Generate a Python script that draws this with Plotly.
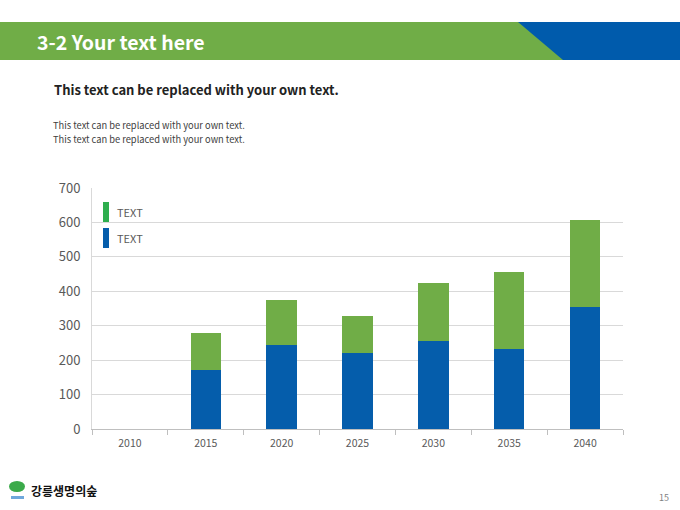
import plotly.graph_objects as go

# chart data
years = ["2010", "2015", "2020", "2025", "2030", "2035", "2040"]
blue_values = [None, 170, 245, 220, 255, 232, 355]
green_values = [None, 110, 130, 108, 168, 225, 252]
series_names = ["TEXT", "TEXT"]
y_ticks = [0, 100, 200, 300, 400, 500, 600, 700]

BLUE = "#055DAB"
GREEN = "#70AD47"
LEGEND_GREEN = "#2EAE4E"
FONT = "Noto Sans CJK KR, Open Sans, sans-serif"

fig = go.Figure()
fig.add_trace(go.Bar(x=years, y=blue_values, name=series_names[1],
                     marker=dict(color=BLUE, line_width=0)))
fig.add_trace(go.Bar(x=years, y=green_values, name=series_names[0],
                     marker=dict(color=GREEN, line_width=0)))

fig.update_layout(
    width=680, height=510,
    margin=dict(l=92, r=57, t=188, b=81),
    barmode="stack", bargap=0.6,
    plot_bgcolor="white", paper_bgcolor="white",
    showlegend=False,
    font=dict(family=FONT, color="#595959"),
)
fig.update_yaxes(range=[0, 700], tickvals=y_ticks, showgrid=True,
                 gridcolor="#D9D9D9", gridwidth=1, zeroline=False,
                 showline=True, linecolor="#D9D9D9", ticks="",
                 tickfont=dict(size=13, color="#595959"), ticklabelstandoff=8)
fig.update_xaxes(showline=True, linecolor="#BFBFBF", ticks="outside",
                 tickson="boundaries", ticklen=5, tickcolor="#BFBFBF",
                 tickfont=dict(size=10.5, color="#595959"), ticklabelstandoff=4)


def px(x, y):
    # slide pixel -> paper coordinates
    return (x - 92) / 531, (429 - y) / 241


# header band
hx0, hy0 = px(0, 60)
hx1, hy1 = px(600, 22)
fig.add_shape(type="rect", xref="paper", yref="paper", x0=hx0, x1=hx1, y0=hy0, y1=hy1,
              fillcolor=GREEN, line_width=0)
pts = [px(518, 22), px(680, 22), px(680, 60), px(563, 60)]
path = "M " + " L ".join(f"{a},{b}" for a, b in pts) + " Z"
fig.add_shape(type="path", xref="paper", yref="paper", path=path,
              fillcolor="#005BAC", line_width=0)

# manual legend with thin vertical swatches
for (y_top, color, name) in [(202, LEGEND_GREEN, series_names[0]), (228, BLUE, series_names[1])]:
    x0, y0 = px(103, y_top + 20)
    x1, y1 = px(109, y_top)
    fig.add_shape(type="rect", xref="paper", yref="paper", x0=x0, x1=x1, y0=y0, y1=y1,
                  fillcolor=color, line_width=0)
    tx, ty = px(115, y_top + 10)
    fig.add_annotation(xref="paper", yref="paper", x=tx, y=ty, text=name, showarrow=False,
                       xanchor="left", yanchor="middle", font=dict(size=11, color="#595959"))


def text(x, y, s, size, color, bold=False, family=FONT):
    ax, ay = px(x, y)
    fig.add_annotation(xref="paper", yref="paper", x=ax, y=ay,
                       text=f"<b>{s}</b>" if bold else s, showarrow=False,
                       xanchor="left", yanchor="middle",
                       font=dict(size=size, color=color, family=family))


text(35, 41, "3-2 Your text here", 19.5, "white", bold=True)
text(52, 90, "This text can be replaced with your own text.", 13, "#222222", bold=True)
text(51, 125, "This text can be replaced with your own text.", 9.3, "#404040")
text(51, 139, "This text can be replaced with your own text.", 9.3, "#404040")
text(657, 498, "15", 9, "#7F7F7F")

# footer logo
cx0, cy0 = px(9, 492)
cx1, cy1 = px(25, 481)
fig.add_shape(type="circle", xref="paper", yref="paper", x0=cx0, x1=cx1, y0=cy0, y1=cy1,
              fillcolor="#3BAA4A", line_width=0)
sx0, sy0 = px(11, 499)
sx1, sy1 = px(24, 496)
fig.add_shape(type="rect", xref="paper", yref="paper", x0=sx0, x1=sx1, y0=sy0, y1=sy1,
              fillcolor="#6FA8DC", line_width=0)
text(29, 490, "강릉생명의숲", 12, "#111111", bold=True)

# drop the default page margin so the figure sits at the window's corner
fig.write_html("out.html", config={"displayModeBar": False},
               post_script="document.body.style.margin='0';")
